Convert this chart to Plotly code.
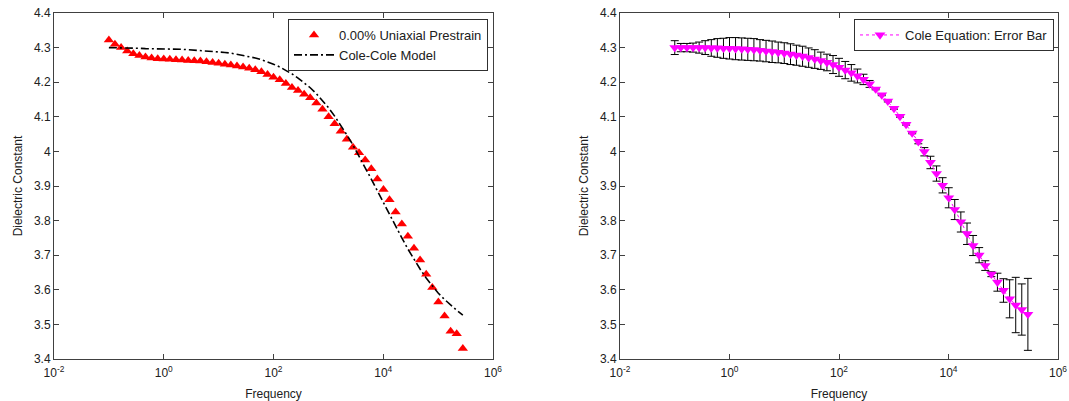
import plotly.graph_objects as go

# ---------------- data ----------------
frequency = [
    0.1, 0.129, 0.167, 0.216, 0.279, 0.360, 0.465, 0.600, 0.776, 1.00,
    1.29, 1.67, 2.16, 2.79, 3.60, 4.65, 6.01, 7.76, 10.0, 13.0,
    16.7, 21.6, 27.9, 36.1, 46.6, 60.2, 77.8, 100, 130, 168,
    217, 280, 362, 467, 604, 780, 1010, 1300, 1680, 2170,
    2810, 3620, 4680, 6050, 7810, 10100, 13000, 16800, 21800, 28100,
    36300, 46900, 60600, 78300, 101000, 131000, 169000, 218000, 282000,
]

prestrain_measured = [
    4.322, 4.310, 4.300, 4.290, 4.282, 4.277, 4.273, 4.270, 4.268, 4.267,
    4.266, 4.265, 4.264, 4.263, 4.262, 4.261, 4.259, 4.257, 4.255, 4.252,
    4.250, 4.247, 4.244, 4.240, 4.236, 4.230, 4.222, 4.214, 4.207, 4.196,
    4.185, 4.176, 4.165, 4.155, 4.140, 4.122, 4.100, 4.080, 4.058, 4.035,
    4.012, 3.996, 3.975, 3.950, 3.920, 3.890, 3.860, 3.825, 3.790, 3.755,
    3.720, 3.686, 3.645, 3.607, 3.565, 3.524, 3.480, 3.473, 3.430,
]

cole_cole_model = [
    4.300, 4.300, 4.299, 4.299, 4.298, 4.298, 4.297, 4.297, 4.297, 4.296,
    4.296, 4.295, 4.295, 4.294, 4.293, 4.292, 4.291, 4.290, 4.288, 4.286,
    4.284, 4.281, 4.278, 4.274, 4.270, 4.265, 4.259, 4.252, 4.244, 4.235,
    4.224, 4.212, 4.199, 4.184, 4.167, 4.147, 4.126, 4.102, 4.076, 4.048,
    4.018, 3.987, 3.954, 3.920, 3.886, 3.851, 3.817, 3.783, 3.750, 3.718,
    3.688, 3.660, 3.634, 3.611, 3.590, 3.572, 3.556, 3.541, 3.527,
]

cole_equation = [
    4.300, 4.300, 4.300, 4.300, 4.300, 4.300, 4.299, 4.299, 4.298, 4.298,
    4.297, 4.296, 4.295, 4.294, 4.292, 4.290, 4.288, 4.286, 4.284, 4.281,
    4.278, 4.275, 4.271, 4.267, 4.262, 4.257, 4.251, 4.243, 4.235, 4.227,
    4.218, 4.208, 4.195, 4.180, 4.163, 4.145, 4.124, 4.101, 4.078, 4.053,
    4.028, 3.999, 3.968, 3.936, 3.902, 3.866, 3.832, 3.796, 3.762, 3.728,
    3.700, 3.670, 3.645, 3.622, 3.598, 3.574, 3.556, 3.543, 3.529,
]

cole_error = [
    0.020, 0.012, 0.012, 0.013, 0.016, 0.020, 0.024, 0.027, 0.029, 0.031,
    0.032, 0.032, 0.032, 0.032, 0.031, 0.031, 0.031, 0.030, 0.030, 0.030,
    0.029, 0.029, 0.028, 0.027, 0.025, 0.024, 0.026, 0.026, 0.025, 0.024,
    0.020, 0.015, 0.010, 0.002, 0.002, 0.002, 0.002, 0.002, 0.002, 0.002,
    0.006, 0.012, 0.018, 0.022, 0.022, 0.029, 0.029, 0.029, 0.031, 0.029,
    0.022, 0.014, 0.007, 0.026, 0.034, 0.055, 0.080, 0.074, 0.104,
]

y_ticks = [3.4, 3.5, 3.6, 3.7, 3.8, 3.9, 4.0, 4.1, 4.2, 4.3, 4.4]
y_tick_text = ["3.4", "3.5", "3.6", "3.7", "3.8", "3.9", "4", "4.1", "4.2", "4.3", "4.4"]
x_ticks = [0.01, 1, 100, 10000, 1000000]
x_tick_text = ["10<sup>-2</sup>", "10<sup>0</sup>", "10<sup>2</sup>", "10<sup>4</sup>", "10<sup>6</sup>"]

# ---------------- figure ----------------
W, H = 1069, 401
FONT = "Liberation Sans, Arial, Helvetica, sans-serif"
AXCOL = "#404040"
TXT = "#202020"

fig = go.Figure()

fig.add_trace(go.Scatter(
    x=frequency, y=prestrain_measured, mode="markers",
    name="0.00% Uniaxial Prestrain",
    marker=dict(symbol="triangle-up", size=9, color="#ff0000", line=dict(width=0)),
    xaxis="x", yaxis="y", legend="legend",
))
fig.add_trace(go.Scatter(
    x=frequency, y=cole_cole_model, mode="lines",
    name="Cole-Cole Model",
    line=dict(color="black", width=1.6, dash="8px,3px,2px,3px"),
    xaxis="x", yaxis="y", legend="legend",
))
fig.add_trace(go.Scatter(
    x=frequency, y=cole_equation, mode="lines+markers",
    name="Cole Equation: Error Bar",
    line=dict(color="#ff00ff", width=1, dash="dot"),
    marker=dict(symbol="triangle-down", size=9.5, color="#ff00ff", line=dict(width=0)),
    error_y=dict(type="data", array=cole_error, visible=True,
                 color="black", thickness=1, width=4),
    xaxis="x2", yaxis="y2", legend="legend2",
))

def xax(domain, anchor):
    return dict(
        domain=domain, anchor=anchor, type="log", range=[-2, 6],
        tickvals=x_ticks, ticktext=x_tick_text,
        ticks="inside", ticklen=5, tickcolor=AXCOL, mirror="ticks",
        showline=True, linecolor=AXCOL, linewidth=1, showgrid=False, zeroline=False,
        tickfont=dict(family=FONT, size=12, color=TXT),
        ticklabelstandoff=3,
        title=dict(text="Frequency", font=dict(family=FONT, size=12, color=TXT), standoff=10),
        automargin=False,
    )

def yax(domain, anchor):
    return dict(
        domain=domain, anchor=anchor, range=[3.4, 4.4],
        tickvals=y_ticks, ticktext=y_tick_text,
        ticks="inside", ticklen=5, tickcolor=AXCOL, mirror="ticks",
        showline=True, linecolor=AXCOL, linewidth=1, showgrid=False, zeroline=False,
        tickfont=dict(family=FONT, size=12, color=TXT),
        title=dict(text="Dielectric Constant", font=dict(family=FONT, size=12, color=TXT), standoff=8),
        automargin=False,
    )

ydom = [(H - 359) / H, (H - 13) / H]
legend_style = dict(
    yanchor="top", xanchor="right",
    bgcolor="white", bordercolor="#303030", borderwidth=1,
    font=dict(family=FONT, size=13, color=TXT),
    tracegroupgap=0, itemwidth=40,
)
fig.update_layout(
    width=W, height=H,
    margin=dict(l=0, r=0, t=0, b=0),
    paper_bgcolor="white", plot_bgcolor="white",
    font=dict(family=FONT, size=12, color=TXT),
    xaxis=xax([54 / W, 493 / W], "y"),
    yaxis=yax(ydom, "x"),
    xaxis2=xax([620 / W, 1058 / W], "y2"),
    yaxis2=yax(ydom, "x2"),
    legend=dict(x=488 / W, y=(H - 19) / H, **legend_style),
    legend2=dict(x=1054 / W, y=(H - 19) / H, **legend_style),
    showlegend=True,
)

fig.write_html("out.html")
